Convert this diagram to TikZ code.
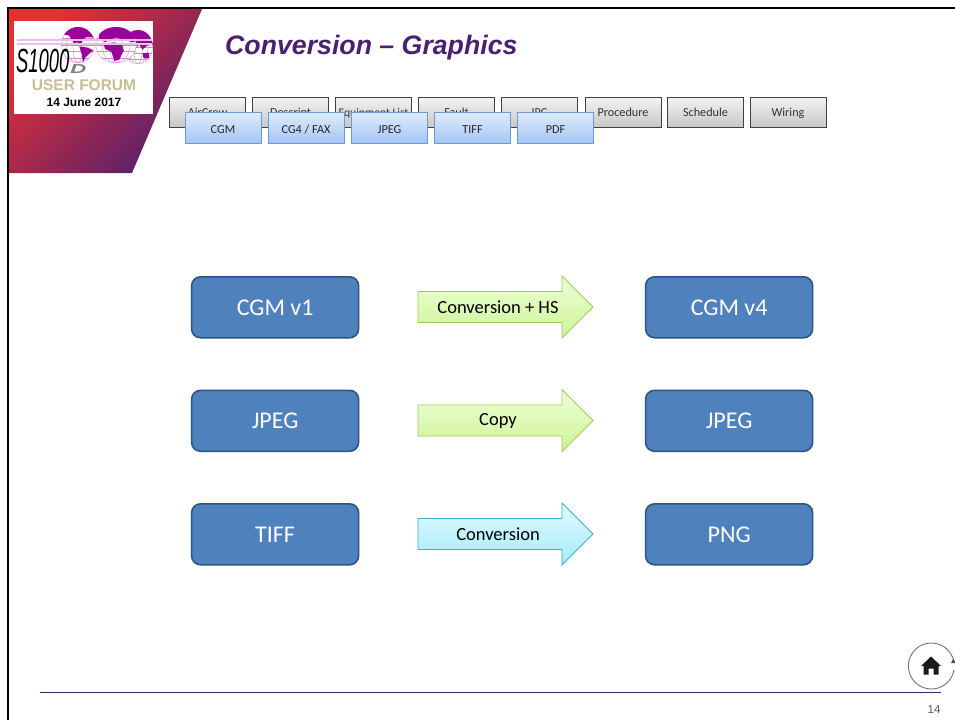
\documentclass[tikz,border=0pt]{standalone}
\usepackage{fontspec}
\setmainfont{Carlito}
\newfontfamily\arial{Liberation Sans}
\usetikzlibrary{calc}
\definecolor{ttl}{HTML}{4B2070}
\definecolor{logop}{HTML}{990099}
\definecolor{tabedge}{RGB}{108,155,212}
\definecolor{tabtop}{RGB}{222,234,252}
\definecolor{tabbot}{RGB}{165,198,245}
\definecolor{boxedge}{RGB}{45,85,130}
\definecolor{boxfill}{RGB}{79,129,189}
\definecolor{gedge}{RGB}{160,205,95}
\definecolor{gtop}{RGB}{238,255,215}
\definecolor{gbot}{RGB}{205,243,150}
\definecolor{cedge}{RGB}{60,175,205}
\definecolor{ctop}{RGB}{225,250,255}
\definecolor{cbot}{RGB}{165,235,250}
\definecolor{banr}{RGB}{232,48,48}
\definecolor{banp}{RGB}{85,32,110}
\definecolor{ufc}{RGB}{198,190,150}
\tikzset{
 x=1pt,y=-1pt,
 graytab/.style={draw=black!75,line width=1pt,top color=black!5,bottom color=black!22,minimum width=76pt,minimum height=30pt,inner sep=0pt,font=\fontsize{12.2}{12.2}\selectfont,text=black!80,anchor=north west,text height=8pt,text depth=0pt},
 bluetab/.style={draw=tabedge,line width=1pt,top color=tabtop,bottom color=tabbot,minimum width=76pt,minimum height=31pt,inner sep=0pt,font=\fontsize{12.2}{12.2}\selectfont,text=black!85,anchor=north west,text height=10pt,text depth=0pt},
 bigbox/.style={draw=boxedge,line width=1.6pt,fill=boxfill,rounded corners=9pt,minimum width=167pt,minimum height=61pt,inner sep=0pt,text=white,font=\fontsize{24}{24}\selectfont,anchor=north west},
 greenarrow/.style={draw=gedge,line width=.8pt,top color=gtop,bottom color=gbot},
 cyanarrow/.style={draw=cedge,line width=.8pt,top color=ctop,bottom color=cbot},
 arrowtext/.style={inner sep=0pt,text=black,font=\fontsize{18.5}{18.5}\selectfont},
 globeg/.style={draw=logop!45!white,line width=.4pt},
}
% block arrow: style, centre y
\newcommand{\blockarrow}[2]{%
 \path[#1] (418,#2-15.5) -- (562,#2-15.5) -- (562,#2-31) -- (593,#2) -- (562,#2+31) -- (562,#2+15.5) -- (418,#2+15.5) -- cycle;
}
% globe: centre x, centre y, x radius, y radius, land drawn on a radius of 27
\newcommand{\globe}[5]{%
 \begin{scope}[shift={(#1,#2)},xscale=#3/27,yscale=#4/27]
 \clip (0,0) circle[radius=27];
 \fill[white] (0,0) circle[radius=27];
 \foreach \d in {-20,-10,0,10,20}{\draw[globeg] (-30,\d) -- (30,\d);}
 \foreach \r in {8,18,26}{\draw[globeg] (0,0) ellipse[x radius=\r,y radius=27];}
 \fill[logop] #5;
 \end{scope}
}
\begin{document}
\begin{tikzpicture}
\useasboundingbox (0,0) rectangle (955,720);
\fill[white] (0,0) rectangle (955,720);
% red banner
\shade[left color=banr,right color=banp,shading angle=45]
 (9,9) -- (202,9) -- (132,173) -- (9,173) -- cycle;
% frame
\draw[black,line width=2pt] (8,720) -- (8,8) -- (955,8);
% logo
\fill[white] (14,21) rectangle (153,114);
\globe{138}{47}{15}{17}{(-27,-27) -- (27,-27) -- (27,-4) -- (16,-2) -- (8,4) -- (2,-4) -- (-4,2) -- (-12,-4) -- (-16,-12) -- (-27,-14) -- cycle (8,10) -- (20,9) -- (20,18) -- (10,18) -- cycle}
\globe{116}{45}{21}{18}{(-20,-27) -- (27,-27) -- (27,-6) -- (20,-4) -- (14,-8) -- (8,-9) -- (0,-11) -- (-8,-8) -- (-14,-4) -- (-22,-10) -- cycle (-16,-2) -- (-2,-4) -- (8,0) -- (10,8) -- (4,22) -- (-2,24) -- (-6,10) -- (-14,6) -- cycle}
\globe{78}{45}{17}{18}{(-27,-27) -- (27,-27) -- (27,-11) -- (14,-12) -- (6,-8) -- (6,0) -- (-2,-4) -- (-6,-2) -- (-14,-14) -- (-27,-17) -- cycle (2,2) -- (16,4) -- (24,8) -- (12,18) -- (8,26) -- (6,14) -- cycle}
\draw[logop!25!white,line width=1.2pt] (17,40) -- (152,40);
\draw[logop!25!white,line width=1.2pt] (17,44) -- (152,44);
\node[inner sep=0pt,anchor=base west,font=\arial\itshape\fontsize{33.5}{33.5}\selectfont,xscale=.55] (sd) at (16,72) {S1000};
\node[inner sep=0pt,anchor=base west,font=\arial\bfseries\itshape\fontsize{13}{13}\selectfont,text=black!50,xscale=1.7] (dd) at (70,73) {D};
\node[inner sep=0pt,font=\arial\bfseries\fontsize{15.5}{15.5}\selectfont,text=ufc] (uf) at (84,85.5) {USER FORUM};
\node[inner sep=0pt,font=\arial\bfseries\fontsize{12}{12}\selectfont] (dt) at (84,102.5) {14 June 2017};
% title
\node[inner sep=0pt,anchor=base west,font=\arial\bfseries\itshape\fontsize{26.7}{26.7}\selectfont,text=ttl] (title) at (225,54) {Conversion – Graphics};
% gray tabs
\node[graytab] (g1) at (169,97) {AirCrew};
\node[graytab] (g2) at (252,97) {Descript};
\node[graytab,font=\fontsize{11.6}{11.6}\selectfont] (g3) at (335,97) {Equipment List};
\node[graytab] (g4) at (418,97) {Fault};
\node[graytab] (g5) at (501,97) {IPC};
\node[graytab] (g6) at (584.5,97) {Procedure};
\node[graytab] (g7) at (667,97) {Schedule};
\node[graytab] (g8) at (749.5,97) {Wiring};
% blue tabs
\node[bluetab] (b1) at (184.5,112) {CGM};
\node[bluetab] (b2) at (267.5,112) {CG4 / FAX};
\node[bluetab] (b3) at (351,112) {JPEG};
\node[bluetab] (b4) at (434,112) {TIFF};
\node[bluetab] (b5) at (517,112) {PDF};
% boxes
\node[bigbox] (a1) at (190.8,276) {CGM v1};
\node[bigbox] (c1) at (644.8,276) {CGM v4};
\node[bigbox] (a2) at (190.8,389.5) {JPEG};
\node[bigbox] (c2) at (644.8,389.5) {JPEG};
\node[bigbox] (a3) at (190.8,503) {TIFF};
\node[bigbox] (c3) at (644.8,503) {PNG};
% arrows
\blockarrow{greenarrow}{307}
\blockarrow{greenarrow}{420.5}
\blockarrow{cyanarrow}{534}
\node[arrowtext] (r1) at (498,307.5) {Conversion + HS};
\node[arrowtext] (r2) at (498,420.5) {Copy};
\node[arrowtext] (r3) at (498,534.5) {Conversion};
% home
\draw[black!55,line width=.9pt] (954,662) arc[start angle=-10,end angle=-350,radius=23];
\fill[black!70] (953,659) -- (956,663) -- (951,663) -- cycle;
\fill[black!90] (931,656.5) -- (941,666) -- (938.5,666) -- (938.5,674.5) -- (933.5,674.5) -- (933.5,668.5) -- (928.5,668.5) -- (928.5,674.5) -- (923.5,674.5) -- (923.5,666) -- (921,666) -- cycle;
% footer
\coordinate (fl) at (40,692.5);
\coordinate (fr) at (941,692.5);
\draw[ttl,line width=1pt] (fl) -- (fr);
\node[inner sep=0pt,font=\arial\fontsize{11.5}{11.5}\selectfont,text=black!65] (pg) at (934,710) {14};
\end{tikzpicture}
\end{document}
